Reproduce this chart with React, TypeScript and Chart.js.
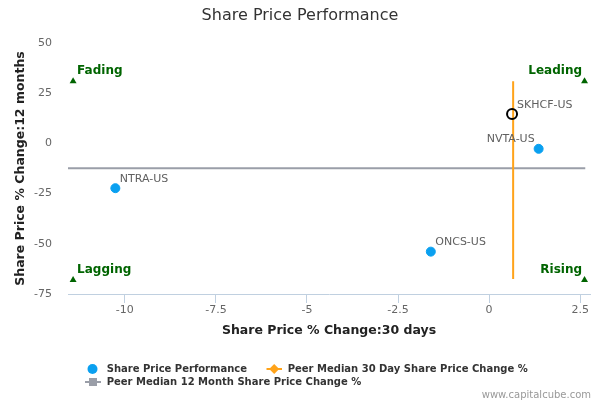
import { useEffect, useRef } from "react";
import { Chart, registerables } from "chart.js";

Chart.register(...registerables);

// peers: 30 day change (x) vs 12 month change (y)
const tickers = ["NTRA-US", "ONCS-US", "NVTA-US"];
const change30d = [-10.26, -1.6, 1.36];
const change12m = [-22.3, -53.9, -2.7];

// the company itself (hollow marker)
const subjectTicker = "SKHCF-US";
const subject30d = [0.63];
const subject12m = [14.7];

// peer medians and how far their reference lines run
const peerMedian30d = 0.66;
const peerMedian12m = -12.4;
const peer30dLineEnds = [31, -67.5];
const peer12mLineEnds = [-11.56, 2.64];

// quadrant markers
const quadrantNames = ["Fading", "Leading", "Lagging", "Rising"];
const quadrant30d = [-11.42, 2.62, -11.42, 2.62];
const quadrant12m = [31, 31, -68, -68];

const xTicks = [-10, -7.5, -5, -2.5, 0, 2.5];
const yTicks = [-75, -50, -25, 0, 25, 50];

const BLUE = "#0aa0f0";
const ORANGE = "#ffa31a";
const GREY = "#9a9ea8";
const GREEN = "#006400";
const FONT = "'DejaVu Sans', sans-serif";

const rightLabels = ["NVTA-US"];

const overlay = {
  id: "overlay",
  afterDraw(chart: any) {
    const { ctx } = chart;
    ctx.save();

    // title
    ctx.font = `16px ${FONT}`;
    ctx.fillStyle = "#333333";
    ctx.textAlign = "center";
    ctx.textBaseline = "middle";
    ctx.fillText("Share Price Performance", 300, 16);

    // peer labels
    ctx.font = `11px ${FONT}`;
    ctx.fillStyle = "#606060";
    const peers = chart.getDatasetMeta(0).data;
    tickers.forEach((t, i) => {
      const p = peers[i];
      if (rightLabels.includes(t)) {
        ctx.textAlign = "right";
        ctx.fillText(t, p.x - 4, p.y - 9.5);
      } else {
        ctx.textAlign = "left";
        ctx.fillText(t, p.x + 4.5, p.y - 9.5);
      }
    });
    const s = chart.getDatasetMeta(1).data[0];
    ctx.textAlign = "left";
    ctx.fillText(subjectTicker, s.x + 5, s.y - 9);

    // quadrant labels
    ctx.font = `bold 12px ${FONT}`;
    ctx.fillStyle = GREEN;
    const quads = chart.getDatasetMeta(4).data;
    quadrantNames.forEach((q, i) => {
      const p = quads[i];
      const right = p.x > chart.chartArea.left + chart.chartArea.width / 2;
      ctx.textAlign = right ? "right" : "left";
      ctx.fillText(q, right ? p.x - 2.5 : p.x + 4, p.y - 10);
    });

    // legend
    ctx.font = `bold 10px ${FONT}`;
    ctx.textAlign = "left";
    ctx.fillStyle = BLUE;
    ctx.beginPath();
    ctx.arc(92.5, 369, 5, 0, Math.PI * 2);
    ctx.fill();
    ctx.fillStyle = "#333333";
    ctx.fillText("Share Price Performance", 106.7, 369);

    ctx.strokeStyle = ORANGE;
    ctx.lineWidth = 2;
    ctx.beginPath();
    ctx.moveTo(266.5, 369);
    ctx.lineTo(282, 369);
    ctx.stroke();
    ctx.fillStyle = ORANGE;
    ctx.beginPath();
    ctx.moveTo(274.2, 364);
    ctx.lineTo(279.2, 369);
    ctx.lineTo(274.2, 374);
    ctx.lineTo(269.2, 369);
    ctx.closePath();
    ctx.fill();
    ctx.fillStyle = "#333333";
    ctx.fillText("Peer Median 30 Day Share Price Change %", 287.7, 369);

    ctx.strokeStyle = GREY;
    ctx.beginPath();
    ctx.moveTo(85, 382);
    ctx.lineTo(101, 382);
    ctx.stroke();
    ctx.fillStyle = GREY;
    ctx.fillRect(89, 378, 8, 8);
    ctx.fillStyle = "#333333";
    ctx.fillText("Peer Median 12 Month Share Price Change %", 106.7, 382);

    // credits
    ctx.font = `10px ${FONT}`;
    ctx.fillStyle = "#999999";
    ctx.textAlign = "right";
    ctx.fillText("www.capitalcube.com", 591, 395);

    ctx.restore();
  },
};

export default function App() {
  const canvasRef = useRef<HTMLCanvasElement | null>(null);

  useEffect(() => {
    if (!canvasRef.current) return;

    const chart = new Chart(canvasRef.current, {
      type: "scatter",
      data: {
        datasets: [
          {
            label: "Share Price Performance",
            data: tickers.map((_, i) => ({ x: change30d[i], y: change12m[i] })),
            backgroundColor: BLUE,
            borderColor: BLUE,
            borderWidth: 1,
            pointRadius: 4.5,
          },
          {
            label: subjectTicker,
            data: subject30d.map((v, i) => ({ x: v, y: subject12m[i] })),
            backgroundColor: "rgba(0,0,0,0)",
            borderColor: "#000000",
            borderWidth: 2,
            pointRadius: 5,
          },
          {
            label: "Peer Median 30 Day Share Price Change %",
            data: peer30dLineEnds.map((y) => ({ x: peerMedian30d, y })),
            showLine: true,
            borderColor: ORANGE,
            borderWidth: 2,
            pointRadius: 0,
          },
          {
            label: "Peer Median 12 Month Share Price Change %",
            data: peer12mLineEnds.map((x) => ({ x, y: peerMedian12m })),
            showLine: true,
            borderColor: GREY,
            borderWidth: 2,
            pointRadius: 0,
          },
          {
            label: "Quadrants",
            data: quadrant30d.map((x, i) => ({ x, y: quadrant12m[i] })),
            pointStyle: "triangle",
            backgroundColor: GREEN,
            borderColor: GREEN,
            borderWidth: 0,
            pointRadius: 4,
          },
        ],
      },
      options: {
        responsive: true,
        maintainAspectRatio: false,
        animation: false,
        events: [],
        layout: { padding: { top: 43, right: 10, bottom: 0, left: 0 } },
        plugins: {
          legend: { display: false },
          tooltip: { enabled: false },
          title: { display: false },
        },
        scales: {
          x: {
            type: "linear",
            min: -11.56,
            max: 2.77,
            afterBuildTicks: (scale: any) => {
              scale.ticks = xTicks.map((value) => ({ value }));
            },
            afterFit: (scale: any) => {
              scale.height = 106;
            },
            grid: {
              drawOnChartArea: false,
              drawTicks: true,
              tickLength: 9,
              color: "#c0d0e0",
            },
            border: { display: true, color: "#c0d0e0", width: 1 },
            ticks: {
              padding: 1,
              color: "#666666",
              font: { family: FONT, size: 11 },
              callback: (v: any) => String(v),
            },
            title: {
              display: true,
              text: "Share Price % Change:30 days",
              color: "#222222",
              font: { family: FONT, size: 12.5, weight: "bold" },
              padding: { top: 0, bottom: 62 },
            },
          },
          y: {
            type: "linear",
            min: -75,
            max: 50,
            afterBuildTicks: (scale: any) => {
              scale.ticks = yTicks.map((value) => ({ value }));
            },
            afterFit: (scale: any) => {
              scale.width = 68;
            },
            grid: { display: false, drawTicks: false },
            border: { display: false },
            ticks: {
              padding: 16,
              color: "#666666",
              font: { family: FONT, size: 11 },
              callback: (v: any) => String(v),
            },
            title: {
              display: true,
              text: "Share Price % Change:12 months",
              color: "#222222",
              font: { family: FONT, size: 12.5, weight: "bold" },
              padding: { top: 13, bottom: 0 },
            },
          },
        },
      },
      plugins: [overlay],
    });

    return () => {
      chart.destroy();
    };
  }, []);

  return (
    <div
      style={{
        position: "fixed",
        left: 0,
        top: 0,
        width: 600,
        height: 400,
        background: "#ffffff",
      }}
    >
      <canvas ref={canvasRef}></canvas>
    </div>
  );
}
